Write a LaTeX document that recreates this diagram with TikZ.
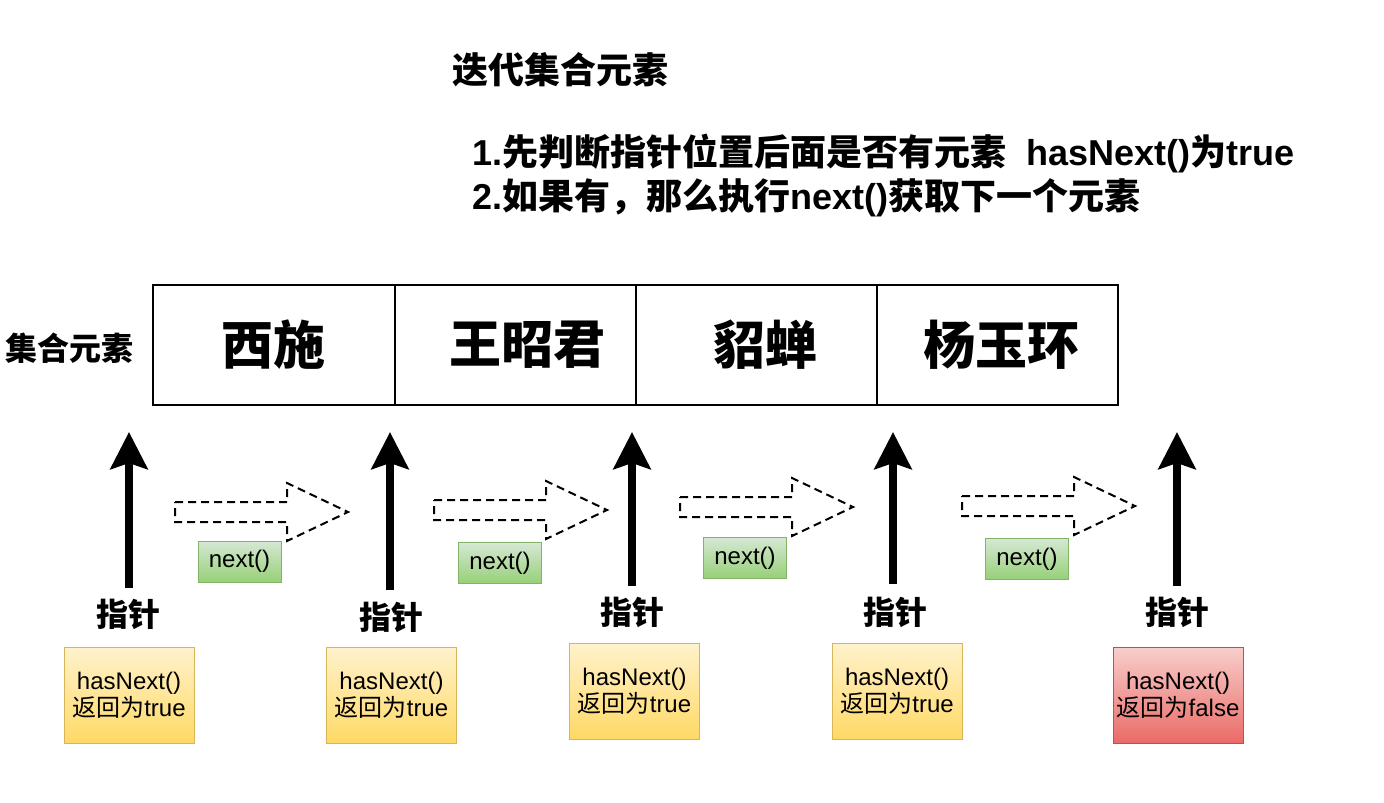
\documentclass[tikz,border=0pt]{standalone}
\usepackage{fontspec}
\setmainfont{Liberation Sans}
\newfontfamily\cj{Noto Sans CJK SC}
\usetikzlibrary{arrows.meta}
\definecolor{ytop}{HTML}{FFF2CC}
\definecolor{ybot}{HTML}{FFD966}
\definecolor{ybd}{HTML}{D6B656}
\definecolor{rtop}{HTML}{F8CECC}
\definecolor{rbot}{HTML}{EA6B66}
\definecolor{rbd}{HTML}{B85450}
\definecolor{gtop}{HTML}{D5E8D4}
\definecolor{gbot}{HTML}{97D077}
\definecolor{gbd}{HTML}{82B366}
\begin{document}
\begin{tikzpicture}[x=0.5pt,y=-0.5pt,
  cell/.style={draw, line width=1pt, minimum height=60pt, inner sep=0},
  celltxt/.style={inner sep=0, font=\cj\bfseries\fontsize{26}{28}\selectfont},
  ptr/.style={line width=4pt, -{Stealth[length=18.5pt,width=18.5pt,inset=3pt]}},
  hollowarrow/.style={draw, line width=1pt, dash pattern=on 4pt off 2.5pt, line join=miter},
  ptrlbl/.style={inner sep=0, font=\cj\bfseries\fontsize{16}{18}\selectfont},
  ybox/.style={draw=ybd, top color=ytop, bottom color=ybot, minimum width=65pt, minimum height=48pt, align=center, inner sep=0, font=\fontsize{12}{12.5}\selectfont},
  rbox/.style={ybox, draw=rbd, top color=rtop, bottom color=rbot},
  gbox/.style={draw=gbd, top color=gtop, bottom color=gbot, minimum width=41.5pt, minimum height=20.5pt, inner sep=0, font=\fontsize{12}{12.5}\selectfont},
  headline/.style={inner sep=0, anchor=base west, font=\bfseries\fontsize{18}{20}\selectfont}
]
\useasboundingbox (0,0) rectangle (1384,802);

% headings
\node[headline] (title) at (452,84) {\cj 迭代集合元素};
\node[headline] (line1) at (472,166) {1.{\cj 先判断指针位置后面是否有元素}\ \ hasNext(){\cj 为}true};
\node[headline] (line2) at (472,209) {2.{\cj 如果有，那么执行}next(){\cj 获取下一个元素}};

% collection
\node[ptrlbl] (lbl) at (69,348) {集合元素};
\node[cell, minimum width=121pt] (c1) at (274,345) {};
\node[cell, minimum width=120.5pt] (c2) at (515.5,345) {};
\node[cell, minimum width=120.5pt] (c3) at (756.5,345) {};
\node[cell, minimum width=120.5pt] (c4) at (997.5,345) {};
\node[celltxt] (t1) at (273,345) {西施};
\node[celltxt] (t2) at (527,345) {王昭君};
\node[celltxt] (t3) at (765,345) {貂蝉};
\node[celltxt] (t4) at (1001,345) {杨玉环};

% pointer arrows
\foreach \i/\x/\yb in {1/129/588, 2/390/590, 3/632/586, 4/893/584, 5/1177/586}{
  \coordinate (p\i b) at (\x,\yb);
  \coordinate (p\i t) at (\x,432);
  \draw[ptr] (p\i b) -- (p\i t);
}

% pointer labels
\node[ptrlbl] (l1) at (128,614) {指针};
\node[ptrlbl] (l2) at (391,617) {指针};
\node[ptrlbl] (l3) at (632,612) {指针};
\node[ptrlbl] (l4) at (895,612) {指针};
\node[ptrlbl] (l5) at (1177,612) {指针};

% hasNext boxes
\node[ybox] (b1) at (129,695) {hasNext()\\{\cj 返回为}true};
\node[ybox] (b2) at (391.5,695) {hasNext()\\{\cj 返回为}true};
\node[ybox] (b3) at (634.5,691) {hasNext()\\{\cj 返回为}true};
\node[ybox] (b4) at (897,691) {hasNext()\\{\cj 返回为}true};
\node[rbox] (b5) at (1178,695) {hasNext()\\{\cj 返回为}false};

% hollow dashed arrows
\foreach \i/\x/\y in {1/175/512, 2/434/510, 3/680/507, 4/962/506}{
  \coordinate (h\i) at (\x,\y);
  \draw[hollowarrow] (h\i) ++(0,-10) -- ++(112,0) -- ++(0,-19) -- ++(61,29)
     -- ++(-61,29) -- ++(0,-19) -- ++(-112,0) -- cycle;
}

% next() boxes
\node[gbox] (g1) at (239.5,561.5) {next()};
\node[gbox] (g2) at (500,563) {next()};
\node[gbox] (g3) at (745,558) {next()};
\node[gbox] (g4) at (1027,559) {next()};
\end{tikzpicture}
\end{document}
